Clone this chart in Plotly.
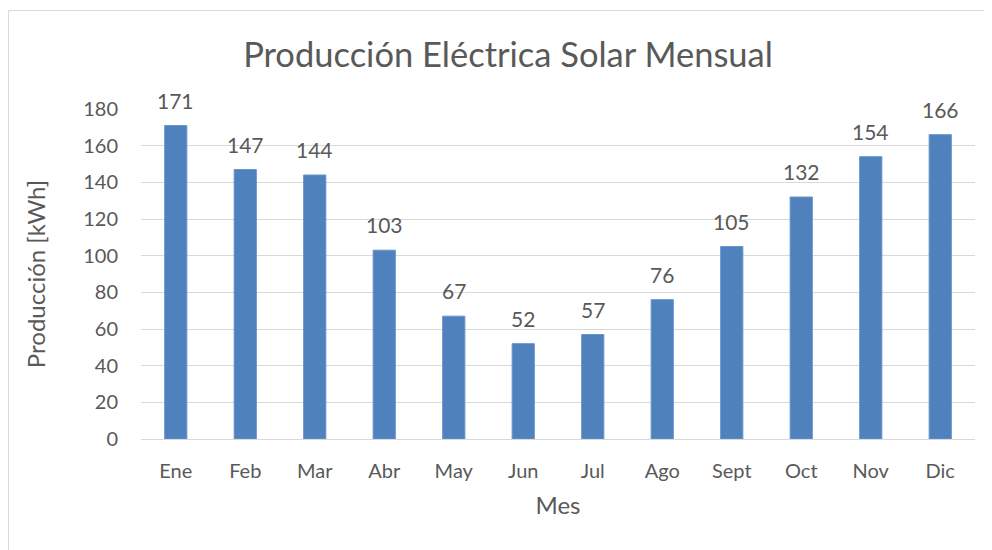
import plotly.graph_objects as go

meses = ["Ene", "Feb", "Mar", "Abr", "May", "Jun", "Jul", "Ago", "Sept", "Oct", "Nov", "Dic"]
produccion = [171, 147, 144, 103, 67, 52, 57, 76, 105, 132, 154, 166]
y_ticks = [0, 20, 40, 60, 80, 100, 120, 140, 160, 180]

FONT = "Lato"
TXT = "#595959"

fig = go.Figure()
fig.add_trace(go.Bar(
    x=meses, y=produccion,
    marker=dict(color="#4F81BD", line=dict(color="#6A95CC", width=1)),
    width=0.32,
    hoverinfo="x+y",
))

for m, v in zip(meses, produccion):
    fig.add_annotation(x=m, y=v, text=str(v), showarrow=False,
                       yanchor="bottom", yshift=11,
                       font=dict(family=FONT, size=21, color=TXT))

# page body has 8px margin -> figure origin at (8,8) in screenshot
W, H = 984, 542
L, R, T, B = 133, 17, 101, 111
pw, ph = W - L - R, H - T - B

fig.add_shape(type="rect", xref="paper", yref="paper",
              x0=(0.5 - L) / pw, x1=(1010 - L) / pw,
              y0=-(570 - (H - B)) / ph, y1=((H - B) - 2.5) / ph,
              line=dict(color="#D9D9D9", width=1), fillcolor="rgba(0,0,0,0)",
              layer="below")

fig.update_layout(
    width=W, height=H,
    margin=dict(l=L, r=R, t=T, b=B),
    paper_bgcolor="white", plot_bgcolor="white",
    showlegend=False,
    title=dict(text="Producción Eléctrica Solar Mensual", x=500 / W, xanchor="center",
               y=1 - 47 / H, yanchor="middle",
               font=dict(family=FONT, size=34.5, color=TXT)),
    font=dict(family=FONT, color=TXT),
    xaxis=dict(
        title=dict(text="Mes", font=dict(family=FONT, size=24, color=TXT), standoff=16),
        tickfont=dict(family=FONT, size=20, color=TXT),
        ticks="outside", ticklen=14, tickcolor="rgba(0,0,0,0)",
        showline=True, linecolor="#D9D9D9", linewidth=1,
        showgrid=False,
    ),
    yaxis=dict(
        title=dict(text="Producción [kWh]", font=dict(family=FONT, size=24, color=TXT), standoff=30),
        tickfont=dict(family=FONT, size=20, color=TXT),
        range=[0, 180], tickvals=y_ticks,
        ticks="outside", ticklen=18, tickcolor="rgba(0,0,0,0)",
        showgrid=True, gridcolor="#D9D9D9", gridwidth=1,
        zeroline=False, showline=False,
    ),
)

fig.write_html("out.html")
